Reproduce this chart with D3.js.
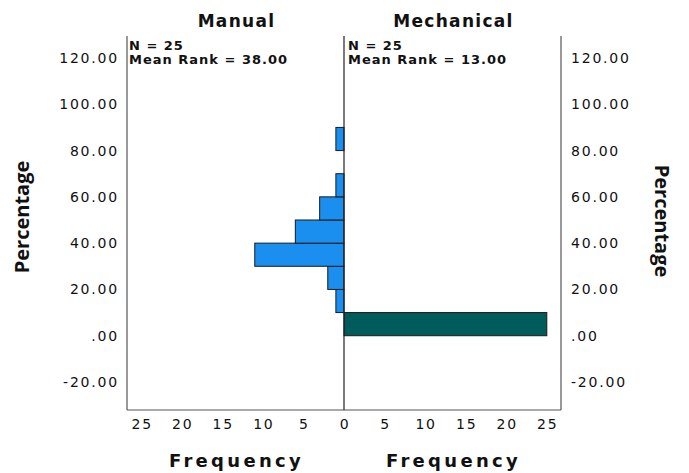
<!DOCTYPE html>
<html>
<head>
<meta charset="utf-8">
<script src="https://cdn.jsdelivr.net/npm/d3@7"></script>
<style>
  body { margin: 0; background: #fff; }
  text { font-family: "DejaVu Sans", Verdana, sans-serif; fill: #111; }
</style>
</head>
<body>
<script>
// bins of Percentage (lower edge, width 10)
var binStarts = [0, 10, 20, 30, 40, 50, 60, 70, 80];
var manualFreq = [0, 1, 2, 11, 6, 3, 1, 0, 1];
var mechanicalFreq = [25, 0, 0, 0, 0, 0, 0, 0, 0];
var groups = ['Manual', 'Mechanical'];
var groupN = [25, 25];
var meanRanks = ['38.00', '13.00'];
var yTicks = [-20, 0, 20, 40, 60, 80, 100, 120];
var xTicks = [0, 5, 10, 15, 20, 25];

var width = 689, height = 473;
var cx = 344, plotTop = 36, plotBottom = 410;
var half = 217;

var svg = d3.select('body').append('svg')
  .attr('width', width)
  .attr('height', height);

var y = d3.scaleLinear().domain([-32.1, 129.5]).range([plotBottom, plotTop]);
var xLeft = d3.scaleLinear().domain([0, 26.75]).range([cx, cx - half]);
var xRight = d3.scaleLinear().domain([0, 26.75]).range([cx, cx + half]);

// bars
function drawBars(freqs, xs, color) {
  var data = binStarts.map(function(b, i) { return {b: b, f: freqs[i]}; })
    .filter(function(d) { return d.f > 0; });
  svg.append('g').selectAll('rect')
    .data(data)
    .enter()
    .append('rect')
    .attr('x', function(d) { return Math.min(xs(0), xs(d.f)); })
    .attr('y', function(d) { return y(d.b + 10); })
    .attr('width', function(d) { return Math.abs(xs(d.f) - xs(0)); })
    .attr('height', function(d) { return y(d.b) - y(d.b + 10); })
    .attr('fill', color)
    .attr('stroke', '#1a1a1a')
    .attr('stroke-width', 1);
}
drawBars(manualFreq, xLeft, '#1a8fef');
drawBars(mechanicalFreq, xRight, '#005c5a');

// frame
var frame = svg.append('g').attr('stroke', '#555').attr('stroke-width', 1.2).attr('fill', 'none');
frame.append('line').attr('x1', xLeft(26.75)).attr('x2', xLeft(26.75)).attr('y1', plotTop).attr('y2', plotBottom);
frame.append('line').attr('x1', xRight(26.75)).attr('x2', xRight(26.75)).attr('y1', plotTop).attr('y2', plotBottom);
frame.append('line').attr('x1', xLeft(26.75)).attr('x2', xRight(26.75)).attr('y1', plotBottom).attr('y2', plotBottom);
frame.append('line').attr('x1', cx).attr('x2', cx).attr('y1', plotTop).attr('y2', plotBottom).attr('stroke', '#222');

// y axis labels, both sides
function fmt(v) { return v === 0 ? '.00' : d3.format('.2f')(v).replace('−', '-'); }
svg.append('g').selectAll('text')
  .data(yTicks)
  .enter()
  .append('text')
  .attr('x', 119)
  .attr('y', function(d) { return y(d) + 5; })
  .attr('text-anchor', 'end')
  .attr('font-size', '14px')
  .attr('letter-spacing', '1.8px')
  .text(fmt);
svg.append('g').selectAll('text')
  .data(yTicks)
  .enter()
  .append('text')
  .attr('x', 571)
  .attr('y', function(d) { return y(d) + 5; })
  .attr('font-size', '14px')
  .attr('letter-spacing', '1.8px')
  .text(fmt);

// x tick labels
[xLeft, xRight].forEach(function(xs, k) {
  svg.append('g').selectAll('text')
    .data(k === 0 ? xTicks : xTicks.slice(1))
    .enter()
    .append('text')
    .attr('x', function(d) { return xs(d) + 1; })
    .attr('y', 429)
    .attr('text-anchor', 'middle')
    .attr('font-size', '14px')
    .attr('letter-spacing', '1.8px')
    .text(function(d) { return d; });
});

// panel titles and stats
var centers = [(cx + xLeft(26.75)) / 2, (cx + xRight(26.75)) / 2];
var starts = [xLeft(26.75) + 2, cx + 4];
groups.forEach(function(g, i) {
  svg.append('text')
    .attr('x', centers[i] + 1)
    .attr('y', 27)
    .attr('text-anchor', 'middle')
    .attr('font-size', '17px')
    .attr('font-weight', 'bold')
    .attr('letter-spacing', '1.3px')
    .text(g);
  svg.append('text')
    .attr('x', starts[i])
    .attr('y', 50)
    .attr('font-size', '13px')
    .attr('font-weight', 'bold')
    .attr('letter-spacing', '1px')
    .text('N = ' + groupN[i]);
  svg.append('text')
    .attr('x', starts[i])
    .attr('y', 64)
    .attr('font-size', '13px')
    .attr('font-weight', 'bold')
    .attr('letter-spacing', '1px')
    .text('Mean Rank = ' + meanRanks[i]);
  svg.append('text')
    .attr('x', centers[i] + 1)
    .attr('y', 467)
    .attr('text-anchor', 'middle')
    .attr('font-size', '18px')
    .attr('font-weight', 'bold')
    .attr('letter-spacing', '3.3px')
    .text('Frequency');
});

// axis titles
svg.append('text')
  .attr('transform', 'translate(29,217) rotate(-90)')
  .attr('text-anchor', 'middle')
  .style('font-family', '"Open Sans", sans-serif')
  .attr('font-size', '20px')
  .attr('font-weight', 'bold')
  .text('Percentage');
svg.append('text')
  .attr('transform', 'translate(655,221) rotate(90)')
  .attr('text-anchor', 'middle')
  .style('font-family', '"Open Sans", sans-serif')
  .attr('font-size', '20px')
  .attr('font-weight', 'bold')
  .text('Percentage');
</script>
</body>
</html>
